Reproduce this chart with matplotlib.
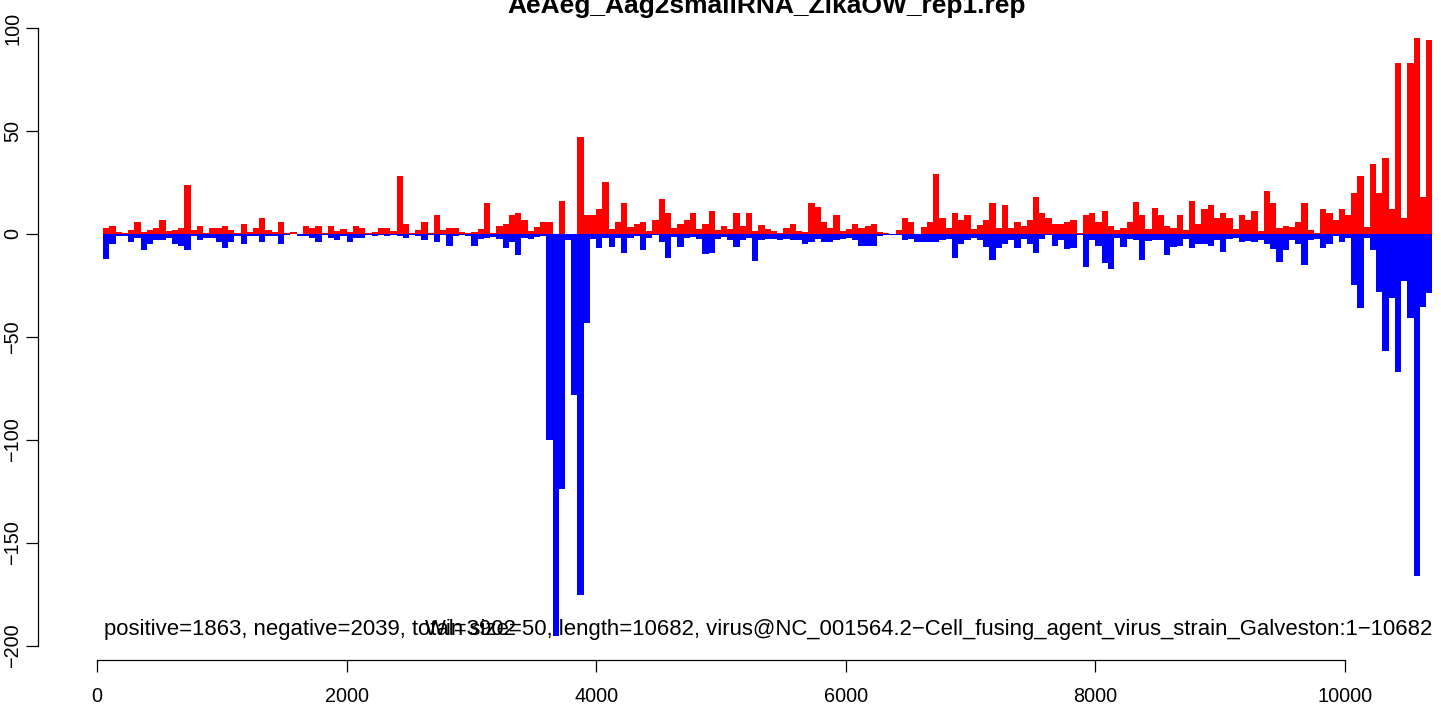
import numpy as np
import matplotlib
matplotlib.use("Agg")
import matplotlib.pyplot as plt

# Reads per 50 nt window (positive strand = red, negative strand = blue)
win_size = 50
length = 10682

pos_counts = [3, 4, 1, 0.5, 2, 6, 1, 2, 3, 7, 1.5, 2, 3, 24, 2, 4, 0.5, 3, 3, 4,
              2, 0.5, 5, 1, 3, 8, 2, 1, 6, 0.5, 1, 0, 4, 3, 4, 0.5, 4, 1.5, 2.5, 1,
              4, 3, 0.5, 1, 3, 3, 1.5, 28, 5, 0.5, 2, 6, 0.5, 9, 2, 3, 3, 1, 0.5, 1,
              2.5, 15, 0.5, 4, 5, 9, 10, 7, 1.5, 3.5, 6, 6, 0, 16, 0, 0, 47, 9, 9, 12,
              25, 2.5, 6, 15, 3.5, 5, 6, 1.5, 7, 17, 10, 3, 5, 7, 10, 2.5, 5, 11, 2, 4,
              2.5, 10, 4, 10, 1.5, 4.5, 2.5, 1.5, 0.5, 3, 5, 1.5, 1, 15, 13, 6, 3, 9, 1.5, 2.5,
              5, 3, 4, 5, 1, 0.5, 0, 2, 8, 6, 0, 3.5, 6, 29, 8, 3, 10, 7, 9, 2.5,
              4.5, 7, 15, 3, 14, 3, 6, 4, 7, 18, 10, 8, 5, 5, 6, 7, 0.5, 9, 10, 6,
              11, 4, 2, 3, 6, 15.5, 9, 2.5, 12.5, 9, 4, 3, 9, 2, 16, 5, 12, 14, 8, 10,
              8, 2.5, 9, 7, 11, 1.5, 21, 15, 3, 4, 3.5, 6, 15, 2, 0.5, 12, 10, 7, 12, 9,
              20, 28, 3.5, 34, 20, 37, 12, 83, 8, 83, 95, 18, 94]

neg_counts = [12, 5, 1, 1, 4, 2, 8, 5, 3, 3, 2, 5, 6, 8, 1, 3, 2, 2, 4, 7,
              4, 1, 5, 1, 1, 4, 1, 1, 5, 0.5, 0, 1, 1, 2, 4, 0.5, 2, 3, 1, 4,
              2, 2, 0.5, 1, 0.5, 1, 0.5, 1, 2, 0.5, 1, 3, 0.5, 4, 0.5, 6, 1, 0.5, 1, 6,
              2.5, 2, 1.5, 2.5, 7, 4, 10, 2, 2.5, 1.5, 1, 100, 195, 124, 3, 78, 175, 43, 2.5, 7,
              2, 6.5, 2, 9, 2, 1, 8, 2, 0.5, 4, 11.5, 1.5, 6.5, 2, 1.5, 2.5, 9.5, 9, 2.5, 1.5,
              3, 6.5, 3, 2, 13, 3, 2.5, 2.5, 3, 2.5, 3, 3, 5, 4, 2.5, 4, 4, 3, 2.5, 2,
              3, 6, 6, 6, 1, 0.5, 0.5, 0.5, 3, 2.5, 4, 4, 4, 4, 3, 2.5, 11.5, 5, 3, 2,
              3, 6.5, 12.5, 7, 5, 3, 7, 2.5, 5, 9, 2.5, 0.5, 6, 3, 7.5, 7, 0.5, 16, 3, 6,
              14, 17, 2, 6.5, 2.5, 3, 12.5, 3.5, 3, 3, 10, 6.5, 6, 2.5, 7, 5, 5, 6, 3, 8.5,
              2.5, 2, 4, 3.5, 4, 3, 5, 7.5, 13.5, 8, 3, 5, 15, 3, 2.5, 7, 5, 1, 4, 2,
              25, 36, 2, 8, 28, 57, 31, 67, 23, 41, 166, 35.5, 28.5]

x_ticks = [0, 2000, 4000, 6000, 8000, 10000]
y_ticks = [-200, -150, -100, -50, 0, 50, 100]

title = "AeAeg_Aag2smallRNA_ZikaOW_rep1.rep"
info_left = "positive=1863, negative=2039, total=3902"
info_right = ("Win size=50, length=10682, "
              "virus@NC_001564.2\u2212Cell_fusing_agent_virus_strain_Galveston:1\u221210682")

plt.rcParams["font.family"] = ["Liberation Sans", "DejaVu Sans"]

W, H = 1441, 706
fig = plt.figure(figsize=(W / 100, H / 100), dpi=100)

# plot region in pixels (R style: axes drawn on the region edges)
L, R, T, B = 38, 1441, 0, 660
ax = fig.add_axes([L / W, (H - B) / H, (R - L) / W, (B - T) / H])

# pixel calibration: x_px = 97 + 0.1248 * x ; y_px = 234 - 2.06 * y
ax.set_xlim((L - 97) / 0.1248, (R - 97) / 0.1248)
ax.set_ylim((234 - B) / 2.06, (234 - T) / 2.06)

starts = win_size * np.arange(1, len(pos_counts) + 1)
ax.bar(starts, pos_counts, width=win_size, align="edge", color="red",
       linewidth=0, antialiased=False)
ax.bar(starts, -np.array(neg_counts), width=win_size, align="edge", color="blue",
       linewidth=0, antialiased=False)

for s in ["top", "right"]:
    ax.spines[s].set_visible(False)
ax.spines["left"].set_bounds(y_ticks[0], y_ticks[-1])
ax.spines["bottom"].set_bounds(x_ticks[0], x_ticks[-1])
for s in ["left", "bottom"]:
    ax.spines[s].set_linewidth(0.9)

ax.set_xticks(x_ticks)
ax.set_yticks(y_ticks)
ax.set_yticklabels([str(v).replace("-", "\u2212") for v in y_ticks],
                   rotation=90, va="center")
ax.tick_params(direction="out", length=8.5, width=0.9, labelsize=14.3)
ax.tick_params(axis="x", pad=11)
ax.tick_params(axis="y", pad=3)

ax.text(56, -192, info_left, ha="left", va="center", fontsize=15.9)
ax.text(10697, -192, info_right, ha="right", va="center", fontsize=15.9)

fig.text(767 / W, 1 - 13 / H, title, ha="center", va="baseline",
         fontsize=19, fontweight="bold")

fig.savefig("out.png", dpi=100)
